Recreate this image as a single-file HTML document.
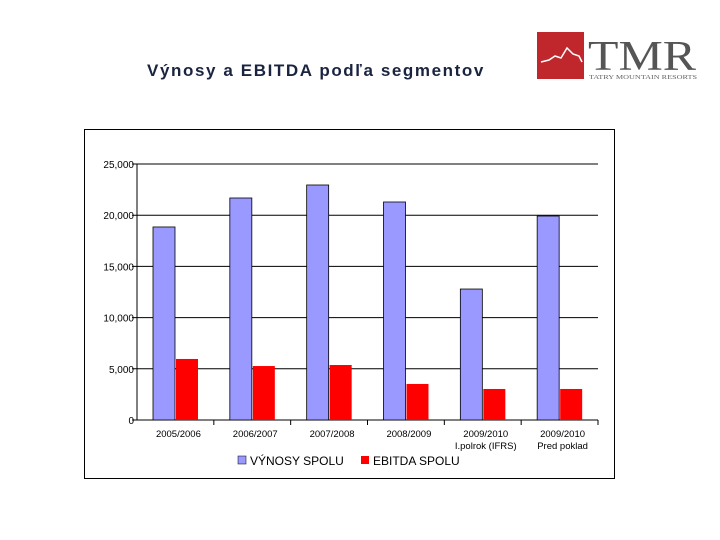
<!DOCTYPE html>
<html><head><meta charset="utf-8"><style>
body{margin:0;background:#fff;width:720px;height:540px;overflow:hidden;font-family:"Liberation Sans",sans-serif;position:relative}
.title{position:absolute;left:147px;top:61px;font-size:17px;font-weight:bold;color:#1a2440;letter-spacing:1.6px}
</style></head><body>
<div class="title">Výnosy a EBITDA podľa segmentov</div>
<svg style="position:absolute;left:537px;top:32px" width="175" height="50">
<rect x="0" y="0" width="47" height="47" fill="#c0272d"/>
<polyline points="4,30 12,28 18,24 24,26 30,16 36,22 42,24 45,30" fill="none" stroke="#fff" stroke-width="1.5"/>
<text x="51" y="38" font-family="Liberation Serif,serif" font-size="42" fill="#555" textLength="108" lengthAdjust="spacingAndGlyphs">TMR</text>
<text x="52" y="47" font-family="Liberation Serif,serif" font-size="6.5" fill="#666" textLength="108" lengthAdjust="spacingAndGlyphs">TATRY MOUNTAIN RESORTS</text>
</svg>
<svg id="c" style="position:absolute;left:0;top:0" width="720" height="540"></svg>
<script>
const categories=["2005/2006","2006/2007","2007/2008","2008/2009","2009/2010|I.polrok (IFRS)","2009/2010|Pred poklad"];
const vynosy=[18850,21680,22950,21290,12790,19920];
const ebitda=[5960,5270,5370,3520,3030,3030];
const ticks=[0,5000,10000,15000,20000,25000];
const tickLabels=["0","5,000","10,000","15,000","20,000","25,000"];
const NS="http://www.w3.org/2000/svg",svg=document.getElementById('c');
const x0=137,x1=598,yb=420,yt=164;
const y=v=>yb-(v/25000)*(yb-yt);
const cw=(x1-x0)/categories.length;
function mk(t,a,p){const e=document.createElementNS(NS,t);for(const k in a)e.setAttribute(k,a[k]);(p||svg).appendChild(e);return e;}
const box=mk('rect',{x:84.5,y:129.5,width:530,height:349,fill:'#fff',stroke:'#000'});


ticks.forEach((t,i)=>{
 const g=mk('line',{x1:x0-5,x2:x1,y1:y(t),y2:y(t),stroke:'#000','stroke-width':1});
 
 
 const l=mk('text',{x:x0-3,y:y(t)+4,'text-anchor':'end','font-size':10,fill:'#000'});
 l.textContent=tickLabels[i];
 
 
});
mk('line',{x1:x0,x2:x0,y1:yt,y2:yb,stroke:'#000'});
categories.forEach((c,i)=>{
 const cx=x0+cw*i;
 mk('line',{x1:cx+cw,x2:cx+cw,y1:yb,y2:yb+5,stroke:'#000'});
 const b=mk('rect',{x:cx+16,y:y(vynosy[i]),width:22,height:yb-y(vynosy[i]),fill:'#9999ff',stroke:'#000','stroke-width':0.8});
 
 
 const r=mk('rect',{x:cx+39,y:y(ebitda[i]),width:22,height:yb-y(ebitda[i]),fill:'#ff0000'});
 
 
 c.split('|').forEach((s,j)=>{
  const t=mk('text',{x:cx+cw/2+3,y:437+j*12,'text-anchor':'middle','font-size':9.5,fill:'#000'});
  t.textContent=s;
  
  
 });
});
const leg=[["VÝNOSY SPOLU","#9999ff",238],["EBITDA SPOLU","#ff0000",361]];
leg.forEach(([n,c,x])=>{
 const s=mk('rect',{x:x,y:456,width:8,height:8,fill:c,stroke:c=='#9999ff'?'#000':'none','stroke-width':0.5});
 
 
 const t=mk('text',{x:x+12,y:465,'font-size':12,fill:'#000'});
 t.textContent=n;
 
 
});
</script>
</body></html>
